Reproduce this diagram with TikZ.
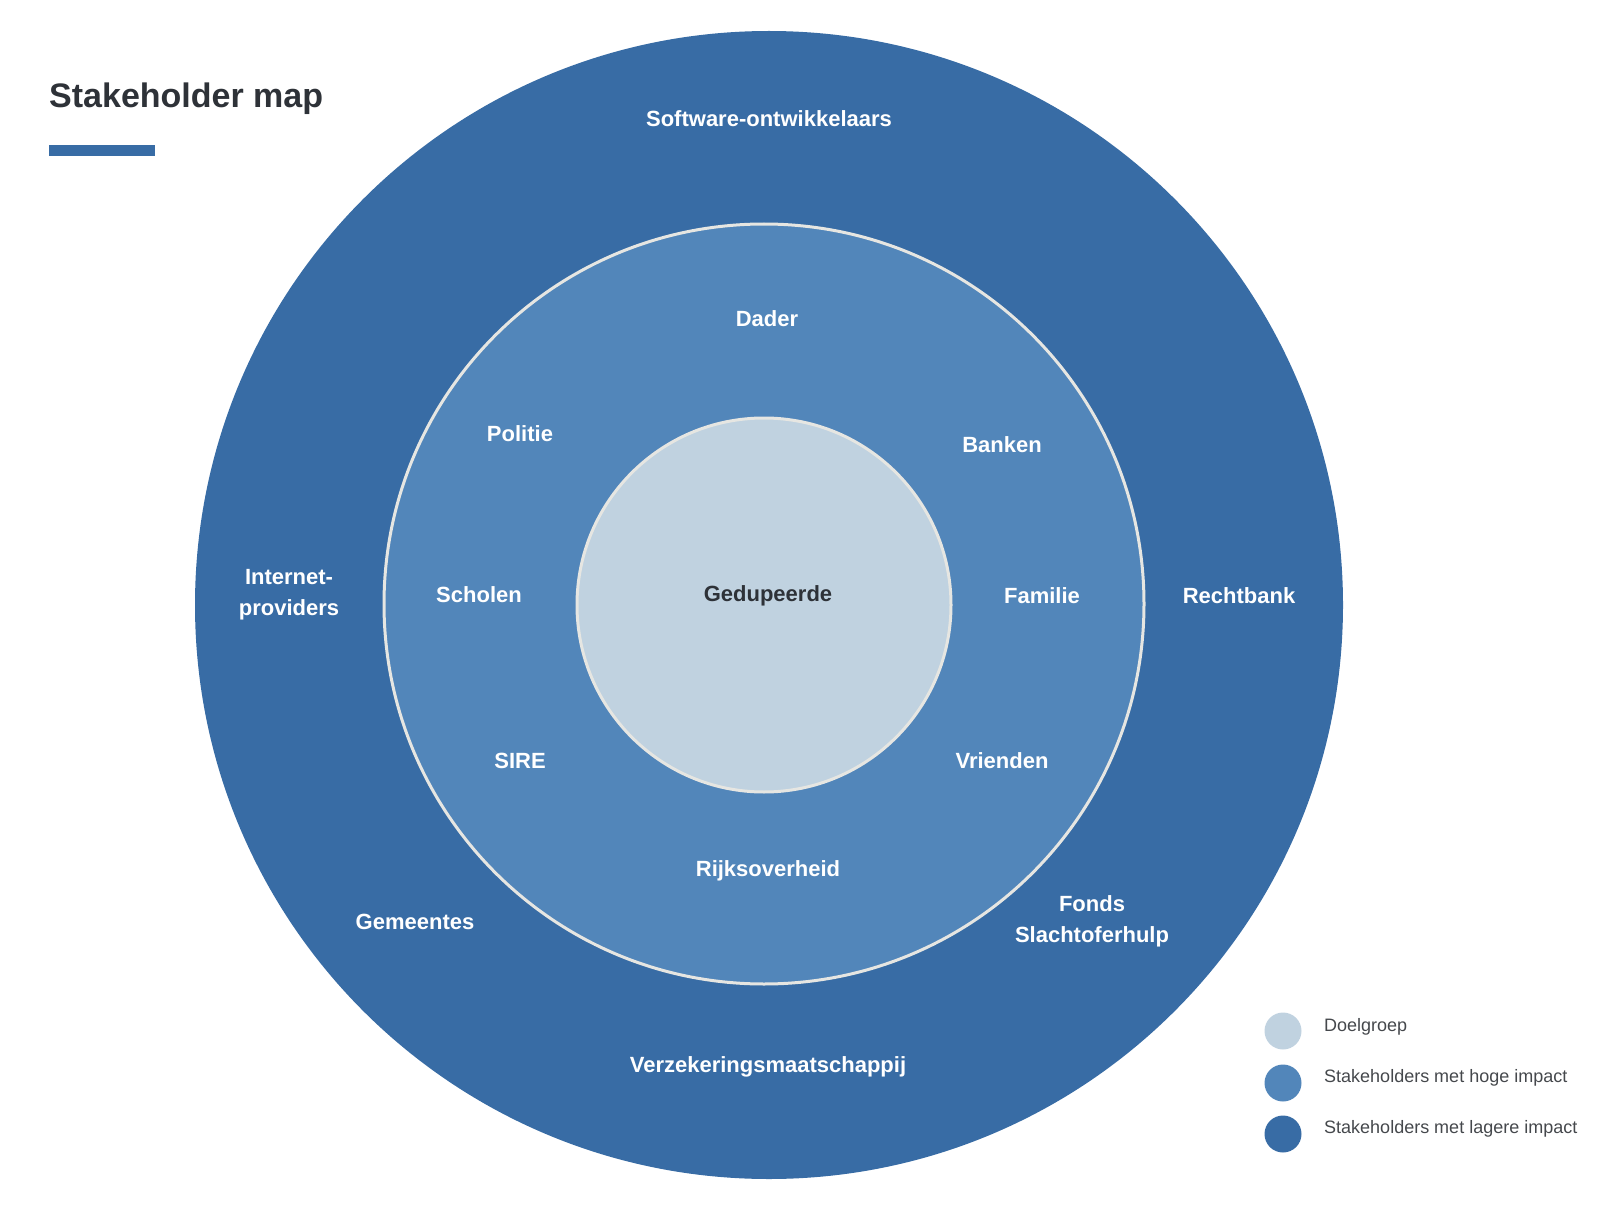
\documentclass[tikz,border=0pt]{standalone}
\usepackage{fontspec}
\setmainfont{Liberation Sans}
\usepackage{tikz}
\definecolor{outerblue}{HTML}{386CA5}
\definecolor{midblue}{HTML}{5286BA}
\definecolor{paleblue}{HTML}{C0D2E0}
\definecolor{rimgrey}{HTML}{E6E6E2}
\definecolor{inkdark}{HTML}{2E3238}
\definecolor{inkgrey}{HTML}{45484C}

\begin{document}
\begin{tikzpicture}
    [x=1pt, y=-1pt,
 ring/.style ={circle, inner sep=0pt},
 rimmed/.style ={ring, draw=rimgrey, line width=3pt},
 lbl/.style ={text=white, font=\fontsize{22}{31}\selectfont\bfseries, align=center, inner sep=0pt},
 key/.style ={circle, inner sep=0pt, minimum size=37pt},
 keytext/.style ={text=inkgrey, font=\fontsize{18}{22}\selectfont, anchor=west, inner sep=0pt}]
        \useasboundingbox (0,0) rectangle (1612,1206);
        % rings
        \node[ring, fill=outerblue, minimum size=1148pt] (outer) at (769, 605) {};
        \node[rimmed, fill=midblue, minimum size=760pt] (middle) at (764, 604) {};
        \node[rimmed, fill=paleblue, minimum size=374pt] (inner) at (764, 605) {};
        % title
        \node[anchor=west, inner sep=0pt, text=inkdark, font=\fontsize{34}{40}\selectfont\bfseries] (title) at (49, 99) {Stakeholder map};
        \fill[outerblue] (49, 145) rectangle (155, 156);
        % outer ring
        \node[lbl] (software) at (769, 119) {Software-ontwikkelaars};
        \node[lbl] (internet) at (289, 595) {Internet-\\providers};
        \node[lbl] (rechtbank) at (1239, 596) {Rechtbank};
        \node[lbl] (gemeentes) at (415, 922) {Gemeentes};
        \node[lbl] (fonds) at (1092, 921) {Fonds\\Slachtoferhulp};
        \node[lbl] (verzekering) at (768, 1067) {Verzekeringsmaatschappij};
        % middle ring
        \node[lbl] (dader) at (767, 319) {Dader};
        \node[lbl] (politie) at (520, 434) {Politie};
        \node[lbl] (banken) at (1002, 445) {Banken};
        \node[lbl] (scholen) at (479, 595) {Scholen};
        \node[lbl] (familie) at (1042, 596) {Familie};
        \node[lbl] (sire) at (520, 761) {SIRE};
        \node[lbl] (vrienden) at (1002, 761) {Vrienden};
        \node[lbl] (rijk) at (768, 871) {Rijksoverheid};
        % centre
        \node[lbl, text=inkdark] (gedupeerde) at (768, 596) {Gedupeerde};
        % legend
        \node[key, fill=paleblue] (keyA) at (1283, 1031) {};
        \node[key, fill=midblue] (keyB) at (1283, 1083) {};
        \node[key, fill=outerblue] (keyC) at (1283, 1134) {};
        \node[keytext] at (1324, 1027) {Doelgroep};
        \node[keytext] at (1324, 1078) {Stakeholders met hoge impact};
        \node[keytext] at (1324, 1129) {Stakeholders met lagere impact};
    \end{tikzpicture}
\end{document}
